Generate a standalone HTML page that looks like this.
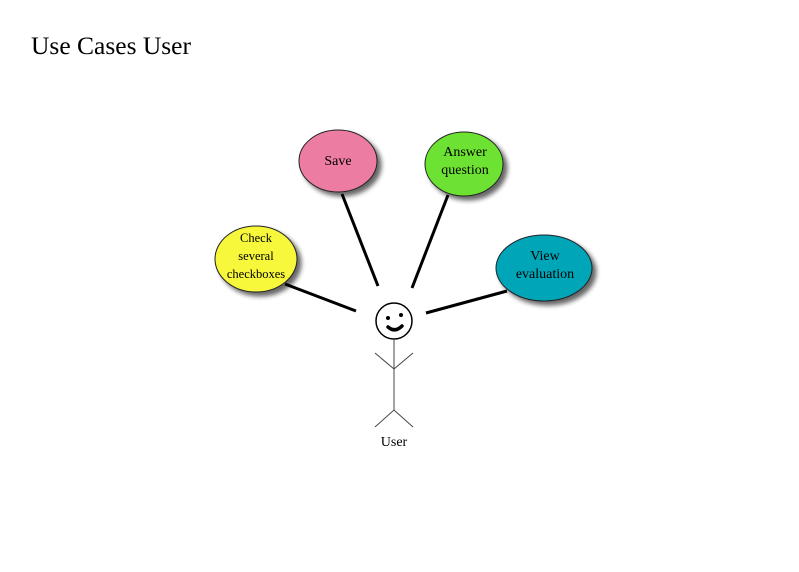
<!DOCTYPE html>
<html><head><meta charset="utf-8"><style>
html,body{margin:0;padding:0;background:#fff;}
svg{display:block;font-family:"Liberation Serif",serif;}
</style></head><body>
<svg width="799" height="572" viewBox="0 0 799 572" xmlns="http://www.w3.org/2000/svg">
<defs>
<filter id="sh" x="-30%" y="-30%" width="160%" height="160%">
<feGaussianBlur in="SourceAlpha" stdDeviation="2.5"/>
<feOffset dx="4" dy="4" result="b"/>
<feComponentTransfer><feFuncA type="linear" slope="0.6"/></feComponentTransfer>
<feMerge><feMergeNode/><feMergeNode in="SourceGraphic"/></feMerge>
</filter>
</defs>
<text x="31" y="54" font-size="25" textLength="160" lengthAdjust="spacingAndGlyphs" fill="#000">Use Cases User</text>
<g stroke="#000" stroke-width="3">
<line x1="342" y1="194" x2="378" y2="286"/>
<line x1="448" y1="195" x2="412" y2="288"/>
<line x1="285" y1="284" x2="356" y2="311"/>
<line x1="507" y1="291" x2="426" y2="313"/>
</g>
<g filter="url(#sh)" stroke="#222" stroke-width="1">
<ellipse cx="338" cy="161" rx="39" ry="31" fill="#ec7ca2"/>
<ellipse cx="464" cy="164" rx="39" ry="32" fill="#6ee232"/>
<ellipse cx="256" cy="259" rx="41" ry="33" fill="#f7f73a"/>
<ellipse cx="544" cy="268" rx="48" ry="33" fill="#02a5b8"/>
</g>
<g font-size="14" text-anchor="middle" fill="#000">
<text x="338" y="165">Save</text>
<text x="465" y="156">Answer</text>
<text x="465" y="174">question</text>
<text x="256" y="242" font-size="12.5">Check</text>
<text x="256" y="260" font-size="12.5">several</text>
<text x="256" y="278" font-size="12.5">checkboxes</text>
<text x="545" y="260">View</text>
<text x="545" y="278">evaluation</text>
<text x="394" y="446">User</text>
</g>
<circle cx="394" cy="321" r="18" fill="#fff" stroke="#000" stroke-width="1.5"/>
<circle cx="388" cy="318" r="2" fill="#000"/>
<circle cx="401" cy="315" r="2" fill="#000"/>
<path d="M388 327 Q395 333 402 326" fill="none" stroke="#000" stroke-width="3.5" stroke-linecap="round"/>
<g stroke="#444" stroke-width="1" fill="none">
<line x1="394" y1="339" x2="394" y2="410"/>
<polyline points="375,353 394,369 413,353"/>
<polyline points="375,427 394,410 413,427"/>
</g>
</svg>
</body></html>
